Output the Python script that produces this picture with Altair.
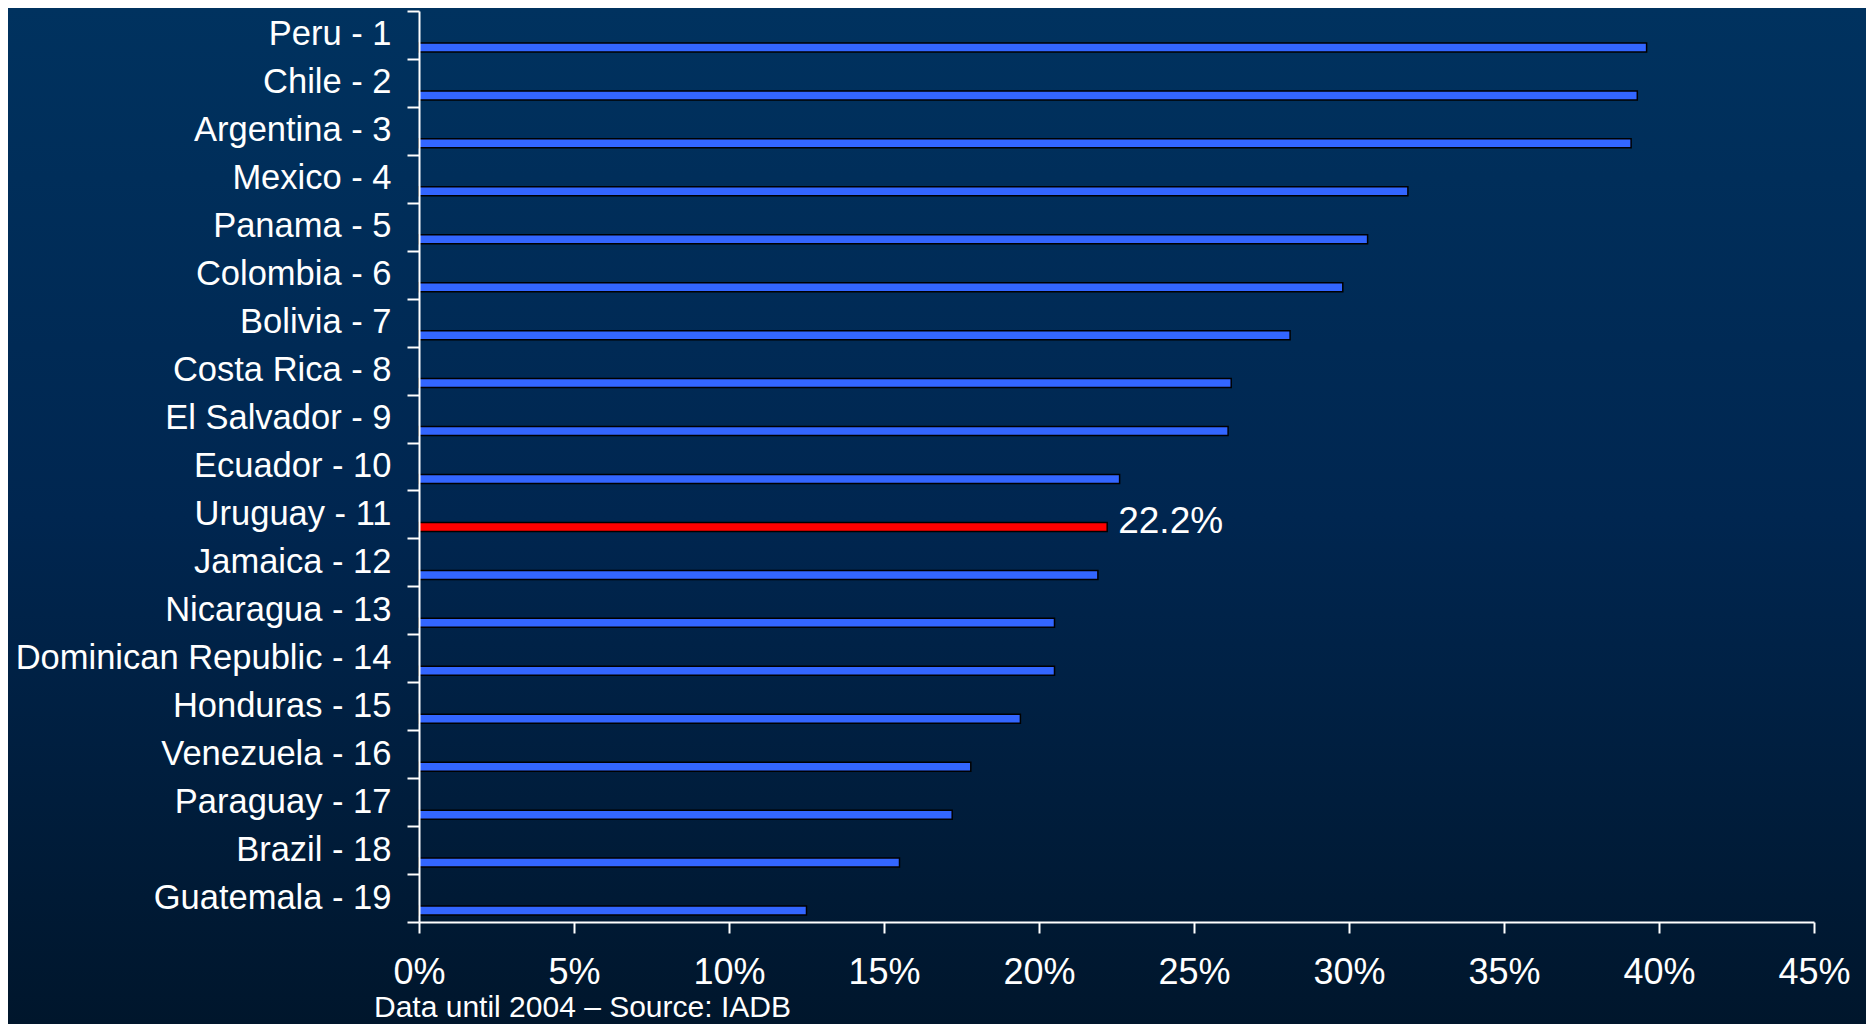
import altair as alt
import pandas as pd

countries = ["Peru - 1", "Chile - 2", "Argentina - 3", "Mexico - 4", "Panama - 5",
             "Colombia - 6", "Bolivia - 7", "Costa Rica - 8", "El Salvador - 9",
             "Ecuador - 10", "Uruguay - 11", "Jamaica - 12", "Nicaragua - 13",
             "Dominican Republic - 14", "Honduras - 15", "Venezuela - 16",
             "Paraguay - 17", "Brazil - 18", "Guatemala - 19"]
values = [39.6, 39.3, 39.1, 31.9, 30.6, 29.8, 28.1, 26.2, 26.1, 22.6, 22.2,
          21.9, 20.5, 20.5, 19.4, 17.8, 17.2, 15.5, 12.5]
highlight = "Uruguay - 11"
x_ticks = [0, 5, 10, 15, 20, 25, 30, 35, 40, 45]
footer = "Data until 2004 \u2013 Source: IADB"

W, H = 1395, 911
PAD = {"left": 411, "top": 3, "right": 52, "bottom": 102}
FONT = "Liberation Sans"

df = pd.DataFrame({"country": countries, "value": values})
df["color"] = ["#FF0000" if c == highlight else "#3366FF" for c in countries]

bg = alt.Chart(pd.DataFrame({"a": [0]})).mark_rect(
    clip=False,
    fill=alt.Gradient(gradient="linear",
                      stops=[alt.GradientStop(color="#00325F", offset=0),
                             alt.GradientStop(color="#002650", offset=0.5),
                             alt.GradientStop(color="#00162C", offset=1)],
                      x1=0, x2=0, y1=0, y2=1),
).encode(
    x=alt.value(-PAD["left"]), x2=alt.value(W + PAD["right"]),
    y=alt.value(-PAD["top"]), y2=alt.value(H + PAD["bottom"]),
)

y_enc = alt.Y("country:N", sort=countries,
              scale=alt.Scale(paddingInner=0, paddingOuter=0),
              axis=alt.Axis(title=None, tickBand="extent", domainColor="white",
                            domainWidth=2, tickColor="white", tickWidth=2,
                            tickSize=12, labelColor="white", labelFont=FONT,
                            labelFontSize=34.5, labelPadding=16,
                            labelAlign="right", labelBaseline="middle",
                            labelLimit=600, zindex=1))
x_enc = alt.X("value:Q", scale=alt.Scale(domain=[0, 45], nice=False),
              axis=alt.Axis(title=None, values=x_ticks, labelExpr="datum.value + '%'",
                            domainColor="white", domainWidth=2, tickColor="white",
                            tickWidth=2, tickSize=11, labelColor="white",
                            labelFont=FONT, labelFontSize=36, labelPadding=22,
                            labelBaseline="top", labelFlush=False, grid=False,
                            zindex=1))

bars = alt.Chart(df).mark_bar(size=9, yOffset=12.5, stroke="black",
                              strokeWidth=1.5).encode(
    x=x_enc, y=y_enc,
    fill=alt.Fill("color:N", scale=None),
)

label = alt.Chart(df[df["country"] == highlight]).transform_calculate(
    txt="format(datum.value, '.1f') + '%'"
).mark_text(
    align="left", baseline="middle", dx=11, yOffset=8, color="white",
    font=FONT, fontSize=37,
).encode(
    x="value:Q", y=alt.Y("country:N", sort=countries),
    text="txt:N",
)

foot = alt.Chart(pd.DataFrame({"t": [footer]})).mark_text(
    align="left", baseline="alphabetic", color="white", font=FONT,
    fontSize=30, clip=False,
).encode(x=alt.value(-45), y=alt.value(1006), text="t:N")

chart = alt.layer(bg, bars, label, foot).properties(
    width=W, height=H, padding=PAD,
    autosize=alt.AutoSizeParams(type="none"),
    background="#00213F",
).configure_view(stroke=None)

chart.save("out.html", embed_options={"renderer": "svg", "actions": False})
